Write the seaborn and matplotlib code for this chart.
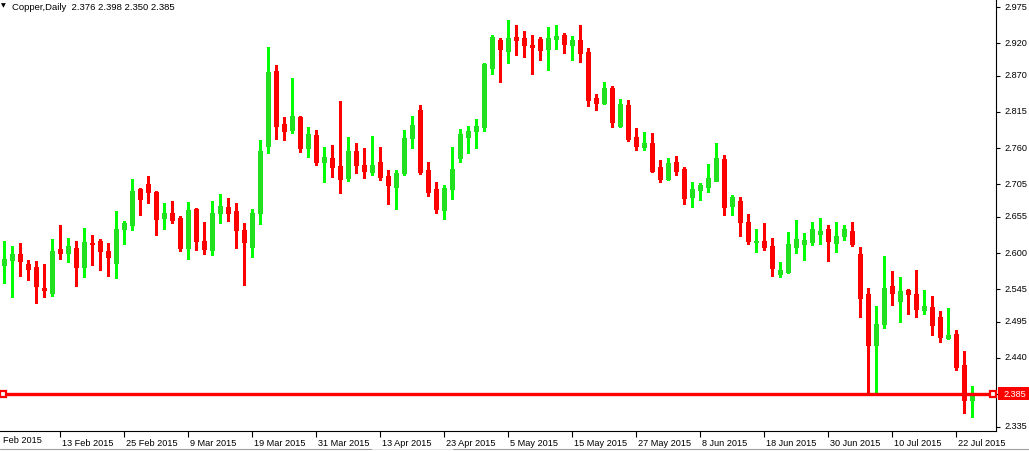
import numpy as np
import pandas as pd
import matplotlib
matplotlib.use("Agg")
import matplotlib.pyplot as plt
import matplotlib.transforms as mtransforms
from matplotlib.patches import Rectangle
from matplotlib.lines import Line2D
import seaborn as sns

# ---------------- data (Copper, Daily) ----------------
opens = [2.581, 2.590, 2.598, 2.583, 2.579, 2.547, 2.539, 2.606, 2.600, 2.608,
         2.578, 2.615, 2.618, 2.603, 2.585, 2.636, 2.643, 2.698, 2.705, 2.693,
         2.653, 2.661, 2.653, 2.608, 2.667, 2.618, 2.605, 2.661, 2.670, 2.664,
         2.635, 2.609, 2.661, 2.763, 2.877, 2.797, 2.788, 2.807, 2.760, 2.780,
         2.739, 2.745, 2.733, 2.714, 2.755, 2.734, 2.723, 2.739, 2.717, 2.701,
         2.722, 2.775, 2.818, 2.727, 2.698, 2.665, 2.697, 2.745, 2.777, 2.786,
         2.792, 2.882, 2.925, 2.908, 2.929, 2.928, 2.917, 2.926, 2.911, 2.926,
         2.932, 2.917, 2.925, 2.906, 2.836, 2.829, 2.852, 2.794, 2.826, 2.777,
         2.762, 2.768, 2.731, 2.713, 2.739, 2.728, 2.685, 2.696, 2.701, 2.710,
         2.743, 2.672, 2.679, 2.647, 2.617, 2.618, 2.611, 2.568, 2.571, 2.609,
         2.614, 2.617, 2.629, 2.637, 2.615, 2.626, 2.634, 2.598, 2.538, 2.460,
         2.492, 2.550, 2.527, 2.544, 2.538, 2.513, 2.518, 2.502, 2.470, 2.477,
         2.429, 2.376]
highs = [2.619, 2.610, 2.615, 2.589, 2.588, 2.583, 2.621, 2.643, 2.623, 2.618,
         2.638, 2.627, 2.621, 2.615, 2.664, 2.649, 2.713, 2.699, 2.717, 2.695,
         2.676, 2.679, 2.656, 2.678, 2.669, 2.647, 2.679, 2.690, 2.684, 2.676,
         2.646, 2.667, 2.772, 2.914, 2.887, 2.807, 2.867, 2.809, 2.792, 2.788,
         2.762, 2.765, 2.832, 2.777, 2.768, 2.760, 2.778, 2.762, 2.727, 2.727,
         2.788, 2.809, 2.826, 2.739, 2.708, 2.704, 2.762, 2.789, 2.794, 2.804,
         2.890, 2.932, 2.928, 2.955, 2.948, 2.938, 2.932, 2.929, 2.945, 2.948,
         2.935, 2.931, 2.948, 2.913, 2.842, 2.861, 2.855, 2.835, 2.833, 2.791,
         2.784, 2.783, 2.742, 2.745, 2.748, 2.731, 2.708, 2.707, 2.736, 2.768,
         2.749, 2.688, 2.685, 2.659, 2.637, 2.646, 2.623, 2.586, 2.632, 2.650,
         2.630, 2.647, 2.653, 2.643, 2.647, 2.643, 2.647, 2.609, 2.547, 2.519,
         2.596, 2.573, 2.563, 2.545, 2.574, 2.544, 2.534, 2.512, 2.516, 2.483,
         2.451, 2.398]
lows = [2.554, 2.533, 2.565, 2.559, 2.524, 2.533, 2.535, 2.591, 2.586, 2.549,
        2.564, 2.582, 2.574, 2.565, 2.562, 2.614, 2.635, 2.658, 2.676, 2.627,
        2.637, 2.646, 2.603, 2.591, 2.605, 2.598, 2.597, 2.646, 2.649, 2.608,
        2.551, 2.594, 2.644, 2.753, 2.774, 2.772, 2.783, 2.754, 2.746, 2.734,
        2.708, 2.716, 2.691, 2.710, 2.722, 2.714, 2.719, 2.711, 2.675, 2.667,
        2.719, 2.760, 2.720, 2.687, 2.661, 2.652, 2.682, 2.739, 2.752, 2.760,
        2.786, 2.873, 2.861, 2.890, 2.902, 2.899, 2.873, 2.894, 2.879, 2.911,
        2.905, 2.894, 2.891, 2.824, 2.818, 2.827, 2.792, 2.792, 2.771, 2.757,
        2.757, 2.723, 2.708, 2.711, 2.719, 2.675, 2.670, 2.681, 2.693, 2.709,
        2.658, 2.658, 2.626, 2.614, 2.602, 2.605, 2.565, 2.563, 2.570, 2.600,
        2.589, 2.612, 2.614, 2.588, 2.602, 2.620, 2.611, 2.502, 2.385, 2.385,
        2.486, 2.521, 2.495, 2.507, 2.502, 2.507, 2.475, 2.464, 2.469, 2.422,
        2.356, 2.350]
closes = [2.591, 2.598, 2.588, 2.576, 2.549, 2.543, 2.603, 2.600, 2.611, 2.579,
          2.617, 2.613, 2.603, 2.594, 2.637, 2.646, 2.695, 2.682, 2.693, 2.652,
          2.661, 2.650, 2.608, 2.666, 2.618, 2.606, 2.661, 2.672, 2.661, 2.635,
          2.617, 2.661, 2.755, 2.876, 2.794, 2.786, 2.809, 2.760, 2.781, 2.739,
          2.746, 2.731, 2.713, 2.755, 2.734, 2.725, 2.734, 2.716, 2.704, 2.722,
          2.775, 2.795, 2.723, 2.693, 2.667, 2.699, 2.728, 2.781, 2.786, 2.794,
          2.888, 2.929, 2.911, 2.928, 2.925, 2.917, 2.914, 2.909, 2.928, 2.931,
          2.919, 2.925, 2.905, 2.833, 2.829, 2.852, 2.800, 2.827, 2.774, 2.763,
          2.768, 2.725, 2.713, 2.737, 2.725, 2.684, 2.698, 2.704, 2.714, 2.745,
          2.670, 2.685, 2.647, 2.618, 2.618, 2.609, 2.577, 2.574, 2.614, 2.621,
          2.620, 2.637, 2.634, 2.618, 2.626, 2.637, 2.614, 2.531, 2.460, 2.492,
          2.547, 2.539, 2.542, 2.538, 2.515, 2.519, 2.490, 2.472, 2.475, 2.426,
          2.376, 2.385]

price_ticks = [2.335, 2.385, 2.440, 2.495, 2.545, 2.600, 2.655, 2.705,
               2.760, 2.815, 2.870, 2.920, 2.975]
date_tick_bars = [7, 15, 23, 31, 39, 47, 55, 63, 71, 79, 87, 95, 103, 111, 119]
date_labels = ["13 Feb 2015", "25 Feb 2015", "9 Mar 2015", "19 Mar 2015",
               "31 Mar 2015", "13 Apr 2015", "23 Apr 2015", "5 May 2015",
               "15 May 2015", "27 May 2015", "8 Jun 2015", "18 Jun 2015",
               "30 Jun 2015", "10 Jul 2015", "22 Jul 2015"]
first_date_label = "Feb 2015"
symbol_title = "Copper,Daily"
last_price = 2.385

# ---------------- style ----------------
sns.set_style("white")
plt.rcParams['font.family'] = ['Liberation Sans', 'DejaVu Sans']

BULL_BODY = '#20e020'
BULL_WICK = '#00ff00'
BEAR = '#ff0000'

W, H = 1029, 452
fig = plt.figure(figsize=(W / 100, H / 100), dpi=100)
fig.patch.set_facecolor('white')
ax = fig.add_axes([0, 20 / H, 996 / W, 432 / H])
ax.set_facecolor('white')

df = pd.DataFrame({'open': opens, 'high': highs, 'low': lows, 'close': closes})
df['bar'] = np.arange(len(df))
up = df['close'] >= df['open']
body_bottom = np.minimum(df['open'], df['close'])
body_top = np.maximum(np.maximum(df['open'], df['close']), body_bottom + 0.0013)
wick_cols = np.where(up, BULL_WICK, BEAR)
body_cols = np.where(up, BULL_BODY, BEAR)

# wicks (1 px) and bodies (5 px wide)
ax.vlines(df['bar'], df['low'], df['high'], colors=wick_cols,
          linewidth=0.8, zorder=2, antialiased=False)
ax.vlines(df['bar'], body_bottom, body_top, colors=body_cols,
          linewidth=3.6, zorder=3, capstyle='butt', antialiased=False)

# horizontal price line with handles
ax.axhline(last_price, color=BEAR, lw=2.4, zorder=5)
ax.plot([-0.125, 123.6], [last_price, last_price], ls='none', marker='s',
        ms=5, mfc='white', mec=BEAR, mew=1.6, zorder=6, clip_on=False)

ax.set_xlim(-0.5, 124.0)
ax.set_ylim(2.32866, 2.98720)

# axes / spines
for s in ['top', 'left']:
    ax.spines[s].set_visible(False)
for s in ['right', 'bottom']:
    ax.spines[s].set_visible(True)
    ax.spines[s].set_color('black')
    ax.spines[s].set_linewidth(0.8)

ax.yaxis.tick_right()
ax.set_yticks(price_ticks)
ax.set_yticklabels([f"{v:.3f}" for v in price_ticks])
ax.tick_params(axis='y', direction='out', length=3, width=0.8, pad=3,
               labelsize=6.6, colors='black', right=True, left=False)
ax.set_xticks(date_tick_bars)
ax.set_xticklabels(date_labels, ha='left')
ax.tick_params(axis='x', direction='out', length=4, width=0.8, pad=1,
               labelsize=6.6, colors='black', bottom=True)

off_x = mtransforms.ScaledTranslation(0.02, 0, fig.dpi_scale_trans)
for lab in ax.get_xticklabels():
    lab.set_transform(lab.get_transform() + off_x)
off_y = mtransforms.ScaledTranslation(0, 0.02, fig.dpi_scale_trans)
for lab in ax.get_yticklabels():
    lab.set_transform(lab.get_transform() + off_y)
ax.grid(False)

# first (partially scrolled) date label at the left edge
fig.text(3 / W, 1 - 441 / H, first_date_label, ha='left', va='center',
         fontsize=6.6, color='black')

# title
fig.text(1 / W, 1 - 6 / H, "\u25bc", ha='left', va='center', fontsize=4.5,
         color='black', family=['DejaVu Sans'])
fig.text(12 / W, 1 - 7 / H,
         f"{symbol_title}  {opens[-1]:.3f} {highs[-1]:.3f} {lows[-1]:.3f} {closes[-1]:.3f}",
         ha='left', va='center', fontsize=6.8, color='black')

# current price box on the right axis
fig.add_artist(Rectangle((998 / W, 1 - 401 / H), 31 / W, 13 / H,
                         transform=fig.transFigure, facecolor=BEAR,
                         edgecolor='none', zorder=10))
fig.text(1003 / W, 1 - 394.5 / H, f"{last_price:.3f}", ha='left', va='center',
         fontsize=6.6, color='white', zorder=11)

# bottom strip line
fig.add_artist(Line2D([0, 372 / W], [1 - 450 / H] * 2, color='#a0a0a0', lw=0.8))
fig.add_artist(Line2D([372 / W, 453 / W], [1 - 450 / H] * 2, color='#e6e6e6', lw=0.8))
fig.add_artist(Line2D([453 / W, 1], [1 - 450 / H] * 2, color='#a0a0a0', lw=0.8))

fig.savefig("out.png", dpi=100, facecolor='white')
